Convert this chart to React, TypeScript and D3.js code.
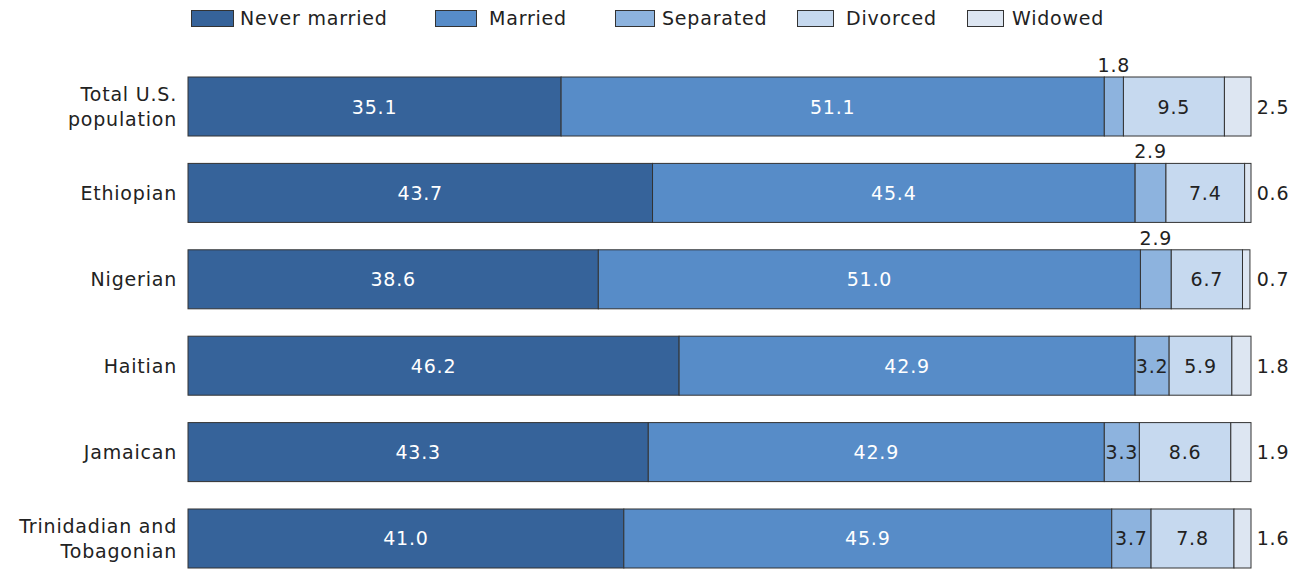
import React from "react";
import * as d3 from "d3";

const categories = [
  "Total U.S.|population",
  "Ethiopian",
  "Nigerian",
  "Haitian",
  "Jamaican",
  "Trinidadian and|Tobagonian",
];
const seriesNames = ["Never married", "Married", "Separated", "Divorced", "Widowed"];
const neverMarried = [35.1, 43.7, 38.6, 46.2, 43.3, 41.0];
const married = [51.1, 45.4, 51.0, 42.9, 42.9, 45.9];
const separated = [1.8, 2.9, 2.9, 3.2, 3.3, 3.7];
const divorced = [9.5, 7.4, 6.7, 5.9, 8.6, 7.8];
const widowed = [2.5, 0.6, 0.7, 1.8, 1.9, 1.6];

const colors = ["#36639a", "#578cc8", "#8db3de", "#c6d9ef", "#dde6f2"];
const textColors = ["#ffffff", "#ffffff", "#222", "#222", "#222"];
const FONT = "'DejaVu Sans', sans-serif";
const LS = 0.8;

const W = 1304;
const H = 569;

// legend layout (swatch left, swatch width, text left)
const legendSwatchX = [191, 435, 615, 797, 967];
const legendSwatchW = [42, 41, 39, 36, 36];
const legendTextX = [240, 489, 662, 846, 1012];

const App: React.FC = () => {
  const series = [neverMarried, married, separated, divorced, widowed];
  const rows = categories.map((c, i) => {
    const vals = series.map((s) => s[i]);
    let acc = 0;
    const segs = vals.map((v) => {
      const s = { x0: acc, x1: acc + v, v };
      acc += v;
      return s;
    });
    return { name: c, segs };
  });

  const x = d3.scaleLinear().domain([0, 100]).range([188, 1251]);
  const y = d3
    .scaleBand<string>()
    .domain(categories)
    .range([77, 568])
    .paddingInner(0.317)
    .paddingOuter(0);
  const bw = y.bandwidth();

  return (
    <svg
      width={W}
      height={H}
      style={{ position: "absolute", left: 0, top: 0 }}
      fontFamily={FONT}
      letterSpacing={LS}
    >
      <rect width={W} height={H} fill="#fff" />
      {/* legend */}
      {seriesNames.map((n, i) => (
        <g key={n}>
          <rect
            x={legendSwatchX[i] + 0.5}
            y={10.5}
            width={legendSwatchW[i]}
            height={16}
            fill={colors[i]}
            stroke="#333"
            strokeWidth={1}
          />
          <text x={legendTextX[i]} y={25} fontSize={19} fill="#222">
            {n}
          </text>
        </g>
      ))}
      {rows.map((r) => {
        const y0 = y(r.name)!;
        const cy = y0 + bw / 2;
        const lines = r.name.split("|");
        return (
          <g key={r.name}>
            {lines.map((l, li) => (
              <text
                key={l}
                x={177}
                y={cy + 7 + (li - (lines.length - 1) / 2) * 25}
                textAnchor="end"
                fontSize={19}
                fill="#222"
              >
                {l}
              </text>
            ))}
            {r.segs.map((s, si) => (
              <rect
                key={si}
                x={x(s.x0)}
                y={y0}
                width={x(s.x1) - x(s.x0)}
                height={bw}
                fill={colors[si]}
                stroke="#333"
                strokeWidth={1}
              />
            ))}
            {r.segs.map((s, si) => {
              const mid = (x(s.x0) + x(s.x1)) / 2;
              const label = s.v.toFixed(1);
              if (si === 4) {
                return (
                  <text key={si} x={1273} y={cy + 7} textAnchor="middle" fontSize={19} fill="#222">
                    {label}
                  </text>
                );
              }
              if (si === 2 && s.v < 3) {
                return (
                  <text key={si} x={mid} y={y0 - 5} textAnchor="middle" fontSize={19} fill="#222">
                    {label}
                  </text>
                );
              }
              return (
                <text key={si} x={mid} y={cy + 7} textAnchor="middle" fontSize={19} fill={textColors[si]}>
                  {label}
                </text>
              );
            })}
          </g>
        );
      })}
    </svg>
  );
};

export default App;
